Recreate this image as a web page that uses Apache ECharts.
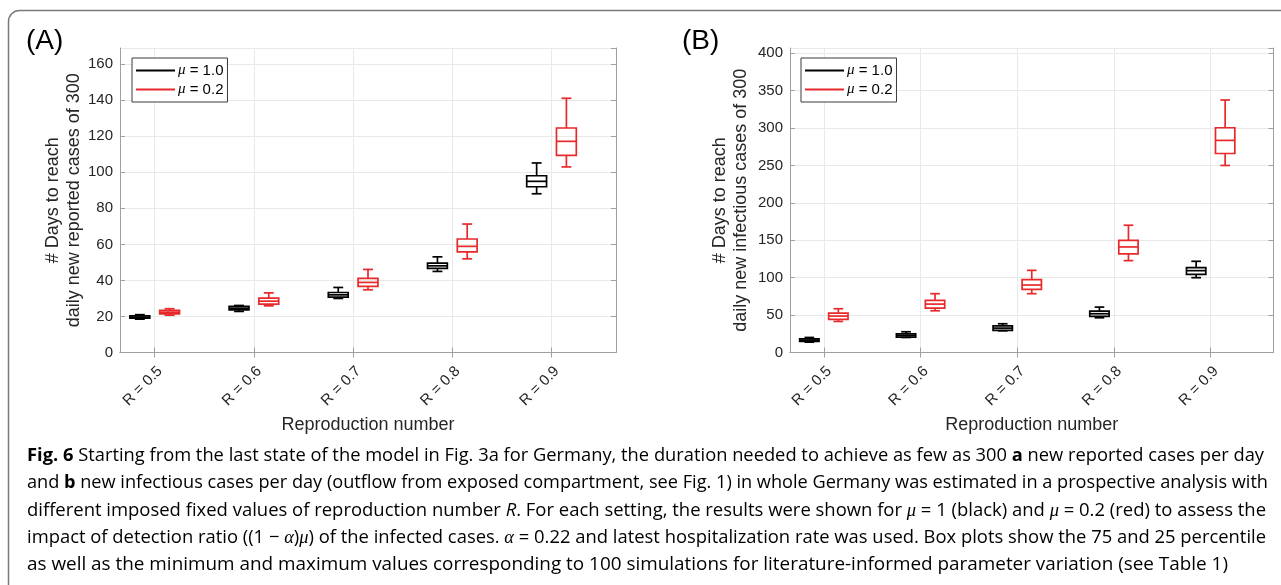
<!DOCTYPE html>
<html><head><meta charset="utf-8">
<script src="https://cdn.jsdelivr.net/npm/echarts@6/dist/echarts.min.js"></script>
<style>html,body{margin:0;padding:0;background:#fff}#c{width:1281px;height:585px}</style>
</head><body><div id="c"></div><script>
// ---------------- data ----------------
const categories = ['R = 0.5', 'R = 0.6', 'R = 0.7', 'R = 0.8', 'R = 0.9'];
const tickPositions = [1, 2, 3, 4, 5];
const seriesNames = ['μ = 1.0', 'μ = 0.2'];
// each box: [min, q1, median, q3, max]
const reportedMu10 = [[18.5, 19.0, 19.6, 20.3, 21.0], [22.8, 23.7, 24.6, 25.6, 26.1], [30.0, 30.7, 32.0, 33.3, 36.1], [45.0, 46.7, 48.1, 49.6, 53.1], [88.1, 92.0, 95.0, 98.1, 105.2]];
const reportedMu02 = [[20.7, 21.4, 22.4, 23.4, 24.3], [25.9, 26.9, 28.5, 30.2, 33.1], [34.8, 36.7, 38.9, 41.1, 46.1], [52.0, 55.9, 58.9, 63.0, 71.3], [103.0, 109.4, 117.2, 124.6, 141.1]];
const infectiousMu10 = [[13.8, 14.7, 16.5, 18.3, 20.1], [20.1, 20.5, 22.8, 25.0, 27.7], [29.0, 29.5, 32.6, 35.7, 38.4], [46.4, 48.2, 51.8, 55.4, 60.7], [100.0, 104.5, 109.4, 113.4, 121.9]];
const infectiousMu02 = [[41.5, 44.2, 48.7, 52.7, 58.5], [55.8, 59.4, 64.7, 69.6, 78.6], [78.6, 84.4, 90.2, 97.3, 109.8], [122.8, 131.7, 141.1, 150.0, 170.1], [250.0, 266.0, 283.5, 300.4, 337.5]];
const yAxisA = { min: 0, max: 169, interval: 20 };
const yAxisB = { min: 0, max: 407, interval: 50 };
const xRange = { min: 0.65, max: 5.65 };

// ---------------- style / layout ----------------
const BLACK = '#000000', RED = '#e8292b';
const OFFSET = [-0.15, 0.15];
const BOX_W = 0.2, CAP_W = 0.1;
const AXIS_COLOR = '#a0a0a0', GRID_COLOR = '#e9e9e9', LABEL_COLOR = '#262626';
const FONT = 'Liberation Sans';
const TICK_FS = 15, TITLE_FS = 18;

function boxData(arr, k) {
  return arr.map((b, i) => [tickPositions[i] + OFFSET[k], b[0], b[1], b[2], b[3], b[4]]);
}

function renderBox(params, api) {
  const x = api.value(0);
  const lo = api.coord([x, api.value(1)]);
  const q1 = api.coord([x, api.value(2)]);
  const md = api.coord([x, api.value(3)]);
  const q3 = api.coord([x, api.value(4)]);
  const hi = api.coord([x, api.value(5)]);
  const hw = api.size([BOX_W, 0])[0] / 2;
  const cw = api.size([CAP_W, 0])[0] / 2;
  const cx = q1[0];
  const st = { stroke: api.visual('color'), fill: null, lineWidth: 1.7 };
  return {
    type: 'group',
    children: [
      { type: 'line', shape: { x1: cx, y1: q3[1], x2: cx, y2: hi[1] }, style: st },
      { type: 'line', shape: { x1: cx, y1: q1[1], x2: cx, y2: lo[1] }, style: st },
      { type: 'line', shape: { x1: cx - cw, y1: hi[1], x2: cx + cw, y2: hi[1] }, style: st },
      { type: 'line', shape: { x1: cx - cw, y1: lo[1], x2: cx + cw, y2: lo[1] }, style: st },
      { type: 'rect', shape: { x: cx - hw, y: q3[1], width: 2 * hw, height: q1[1] - q3[1] }, style: st },
      { type: 'line', shape: { x1: cx - hw, y1: md[1], x2: cx + hw, y2: md[1] }, style: st }
    ]
  };
}

function xAxisPair(gridIndex) {
  return [
    {
      type: 'value', gridIndex, position: 'bottom', min: xRange.min, max: xRange.max,
      axisLine: { show: true, lineStyle: { color: AXIS_COLOR, width: 1 } },
      axisTick: { show: true, inside: true, length: 5, customValues: tickPositions, lineStyle: { color: AXIS_COLOR } },
      axisLabel: {
        show: true, customValues: tickPositions, rotate: 45, margin: 11, verticalAlign: 'top',
        formatter: v => categories[tickPositions.indexOf(Math.round(v))],
        fontSize: TICK_FS, fontFamily: FONT, color: LABEL_COLOR
      },
      splitLine: { show: true, lineStyle: { color: GRID_COLOR, width: 1 } },
      name: 'Reproduction number', nameLocation: 'middle', nameGap: 61,
      nameTextStyle: { fontSize: TITLE_FS, fontFamily: FONT, color: LABEL_COLOR }
    },
    {
      type: 'value', gridIndex, position: 'top', min: xRange.min, max: xRange.max,
      axisLine: { show: true, lineStyle: { color: AXIS_COLOR, width: 1 } },
      axisTick: { show: true, inside: true, length: 5, customValues: tickPositions, lineStyle: { color: AXIS_COLOR } },
      axisLabel: { show: false }, splitLine: { show: false }
    }
  ];
}

function yAxisPair(gridIndex, cfg, name, gap) {
  return [
    {
      type: 'value', gridIndex, position: 'left', min: cfg.min, max: cfg.max, interval: cfg.interval,
      axisLine: { show: true, lineStyle: { color: AXIS_COLOR, width: 1 } },
      axisTick: { show: true, inside: true, length: 5, lineStyle: { color: AXIS_COLOR } },
      axisLabel: { show: true, showMaxLabel: false, margin: 7, fontSize: TICK_FS, fontFamily: FONT, color: LABEL_COLOR },
      splitLine: { show: true, lineStyle: { color: GRID_COLOR, width: 1 } },
      name, nameLocation: 'middle', nameGap: gap,
      nameTextStyle: { fontSize: TITLE_FS, lineHeight: 21, fontFamily: FONT, color: LABEL_COLOR }
    },
    {
      type: 'value', gridIndex, position: 'right', min: cfg.min, max: cfg.max, interval: cfg.interval,
      axisLine: { show: true, lineStyle: { color: AXIS_COLOR, width: 1 } },
      axisTick: { show: true, inside: true, length: 5, lineStyle: { color: AXIS_COLOR } },
      axisLabel: { show: false }, splitLine: { show: false }
    }
  ];
}

function legendFor(left) {
  return {
    show: true, left, top: 58, orient: 'vertical', selectedMode: false,
    data: seriesNames, icon: 'rect', itemWidth: 39, itemHeight: 2, itemGap: 2,
    padding: [4, 4, 4, 4], borderColor: '#3a3a3a', borderWidth: 1, backgroundColor: '#fff',
    formatter: n => '{i|μ}' + n.slice(1),
    textStyle: {
      fontSize: 15, fontFamily: FONT, color: '#000', lineHeight: 17, padding: [0, 0, 0, -2],
      rich: { i: { fontSize: 15, fontFamily: 'Liberation Serif', fontStyle: 'italic', color: '#000' } }
    }
  };
}

// ---------------- caption ----------------
const captionLines = [
  [['b', 'Fig. 6'], ['n', ' Starting from the last state of the model in Fig. '], ['l', '3'], ['n', 'a for Germany, the duration needed to achieve as few as 300 '], ['b', 'a'], ['n', ' new reported cases per day']],
  [['n', 'and '], ['b', 'b'], ['n', ' new infectious cases per day (outflow from exposed compartment, see Fig. '], ['l', '1'], ['n', ') in whole Germany was estimated in a prospective analysis with']],
  [['n', 'different imposed fixed values of reproduction number '], ['i', 'R'], ['n', '. For each setting, the results were shown for '], ['m', 'μ'], ['n', ' = 1 (black) and '], ['m', 'μ'], ['n', ' = 0.2 (red) to assess the']],
  [['n', 'impact of detection ratio ((1 − '], ['m', 'α'], ['n', ')'], ['m', 'μ'], ['n', ') of the infected cases. '], ['m', 'α'], ['n', ' = 0.22 and latest hospitalization rate was used. Box plots show the 75 and 25 percentile']],
  [['n', 'as well as the minimum and maximum values corresponding to 100 simulations for literature-informed parameter variation (see Table '], ['l', '1'], ['n', ')']]
];
const CAP_FS = 18.5, CAP_FONT = 'Open Sans', CAP_COLOR = '#231f20';
const capStyles = {
  n: { fontSize: CAP_FS, fontFamily: CAP_FONT, color: CAP_COLOR },
  b: { fontSize: CAP_FS, fontFamily: CAP_FONT, fontWeight: 'bold', color: CAP_COLOR },
  i: { fontSize: CAP_FS, fontFamily: CAP_FONT, fontStyle: 'italic', color: CAP_COLOR },
  m: { fontSize: CAP_FS, fontFamily: 'Liberation Serif', fontStyle: 'italic', color: CAP_COLOR },
  l: { fontSize: CAP_FS, fontFamily: CAP_FONT, color: '#2b47d6' }
};
const capLineY = [456, 483, 511, 538, 565];
const capLineEnd = [1264, 1268, 1266, 1266, 1228];
const CAP_X = 27;
const mctx = document.createElement('canvas').getContext('2d');
function segWidth(k, t) {
  const s = capStyles[k];
  mctx.font = (s.fontStyle || 'normal') + ' ' + (s.fontWeight || 'normal') + ' ' + s.fontSize + 'px "' + s.fontFamily + '"';
  return mctx.measureText(t).width;
}
const captionGraphics = captionLines.map((segs, li) => {
  const w = segs.reduce((a, s) => a + segWidth(s[0], s[1]), 0);
  return {
    type: 'text', x: CAP_X, y: capLineY[li], scaleX: (capLineEnd[li] - CAP_X) / w,
    style: {
      x: 0, y: 0, verticalAlign: 'middle', align: 'left',
      text: segs.map(s => '{' + s[0] + '|' + s[1] + '}').join(''),
      rich: capStyles
    }
  };
});

const chart = echarts.init(document.getElementById('c'), null, { renderer: 'canvas' });
chart.setOption({
  backgroundColor: '#fff',
  animation: false,
  grid: [
    { left: 120, top: 48, width: 496, height: 304.5, containLabel: false },
    { left: 790, top: 48, width: 483.5, height: 304.5, containLabel: false }
  ],
  xAxis: [...xAxisPair(0), ...xAxisPair(1)],
  yAxis: [
    ...yAxisPair(0, yAxisA, '# Days to reach\ndaily new reported cases of 300', 34),
    ...yAxisPair(1, yAxisB, '# Days to reach\ndaily new infectious cases of 300', 38)
  ],
  legend: [legendFor(132), legendFor(801)],
  series: [
    { type: 'custom', name: seriesNames[0], xAxisIndex: 0, yAxisIndex: 0, itemStyle: { color: BLACK }, renderItem: renderBox, data: boxData(reportedMu10, 0), encode: { x: 0, y: [1, 2, 3, 4, 5] } },
    { type: 'custom', name: seriesNames[1], xAxisIndex: 0, yAxisIndex: 0, itemStyle: { color: RED }, renderItem: renderBox, data: boxData(reportedMu02, 1), encode: { x: 0, y: [1, 2, 3, 4, 5] } },
    { type: 'custom', name: seriesNames[0], xAxisIndex: 2, yAxisIndex: 2, itemStyle: { color: BLACK }, renderItem: renderBox, data: boxData(infectiousMu10, 0), encode: { x: 0, y: [1, 2, 3, 4, 5] } },
    { type: 'custom', name: seriesNames[1], xAxisIndex: 2, yAxisIndex: 2, itemStyle: { color: RED }, renderItem: renderBox, data: boxData(infectiousMu02, 1), encode: { x: 0, y: [1, 2, 3, 4, 5] } }
  ],
  graphic: [
    { type: 'rect', shape: { x: 8.5, y: 10.5, width: 1400, height: 800, r: [11, 0, 0, 0] }, style: { stroke: '#7a7a7a', lineWidth: 1.5, fill: null } },
    { type: 'text', x: 26, y: 41, style: { text: '(A)', fontSize: 28, fontFamily: FONT, fill: '#000', verticalAlign: 'middle' } },
    { type: 'text', x: 682, y: 41, style: { text: '(B)', fontSize: 28, fontFamily: FONT, fill: '#000', verticalAlign: 'middle' } },
    ...captionGraphics
  ]
});
</script></body></html>
